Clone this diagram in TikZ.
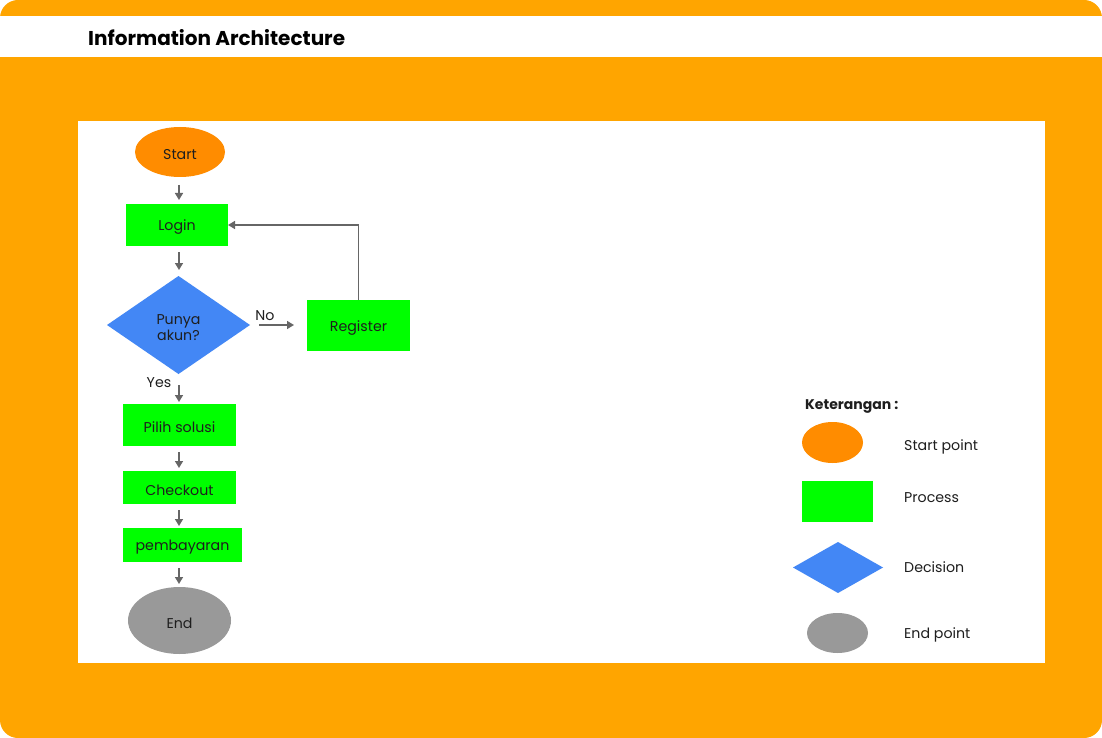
\documentclass[tikz,border=0pt]{standalone}
\usepackage{fontspec}
\setmainfont{Poppins}
\usetikzlibrary{shapes.geometric,arrows.meta}
\definecolor{frameorange}{HTML}{FFA500}
\definecolor{startorange}{HTML}{FF8C00}
\definecolor{procgreen}{HTML}{00FF00}
\definecolor{decblue}{HTML}{4387F5}
\definecolor{endgray}{HTML}{999999}
\definecolor{arrowgray}{HTML}{666666}
\definecolor{txt}{HTML}{1E1E1E}
\tikzset{
  base/.style={inner sep=0pt, outer sep=0pt, text=txt, font=\fontsize{14.2}{16}\selectfont, align=center},
  startnode/.style={base, ellipse, fill=startorange},
  procnode/.style={base, rectangle, fill=procgreen},
  decnode/.style={base, diamond, fill=decblue},
  endnode/.style={base, ellipse, fill=endgray},
  lbl/.style={inner sep=0pt, text=txt, font=\fontsize{14.2}{17}\selectfont},
  flow/.style={draw=arrowgray, line width=1.5pt, -{Triangle[length=7pt,width=8pt]}},
}
\newcommand{\dn}[1]{\raisebox{-2.5pt}[\height][\depth]{#1}}
\begin{document}
\begin{tikzpicture}[x=1pt,y=-1pt]
\useasboundingbox (0,0) rectangle (1102,738);
% frame
\fill[frameorange, rounded corners=18pt] (0,0) rectangle (1102,738);
\fill[white] (0,16) rectangle (1102,57);
\node[anchor=west, inner sep=0pt, font=\fontsize{20}{24}\selectfont\bfseries] (title) at (88,37.5) {Information Architecture};
\fill[white] (78,121) rectangle (1045,663);
% flowchart
\node[startnode, minimum width=90pt, minimum height=50pt] (start) at (180,152) {\dn{Start}};
\node[procnode, minimum width=102pt, minimum height=42pt] (login) at (177,225) {\dn{Login}};
\node[decnode, minimum width=143pt, minimum height=98pt] (dec) at (178.5,325) {\dn{\shortstack{Punya\\[-1pt]akun?}}};
\node[procnode, minimum width=103pt, minimum height=51pt] (reg) at (358.5,325.5) {\dn{Register}};
\node[procnode, minimum width=113pt, minimum height=42pt] (pilih) at (179.5,425) {\dn{Pilih solusi}};
\node[procnode, minimum width=113pt, minimum height=33pt] (check) at (179.5,487.5) {\dn{Checkout}};
\node[procnode, minimum width=119pt, minimum height=34pt] (pemb) at (182.5,545) {\dn{pembayaran}};
\node[endnode, minimum width=103pt, minimum height=67pt] (end) at (179.5,620.5) {\dn{End}};
\node[lbl] (nolbl) at (265,316) {No};
\node[lbl] (yeslbl) at (159,383) {Yes};
% connectors
\draw[flow, shorten <=8pt, shorten >=4pt] (start.south -| 179,0) -- (login.north -| 179,0);
\draw[flow, shorten <=6pt, shorten >=6pt] (login.south -| 179,0) -- (dec.north -| 179,0);
\draw[flow, shorten <=9pt, shorten >=13pt] (dec.east) -- (reg.west |- dec.east);
\draw[flow] (reg.north) |- (login.east);
\draw[flow, shorten <=11pt, shorten >=2pt] (dec.south -| 179,0) -- (pilih.north -| 179,0);
\draw[flow, shorten <=6pt, shorten >=3pt] (pilih.south -| 179,0) -- (check.north -| 179,0);
\draw[flow, shorten <=6pt, shorten >=2pt] (check.south -| 179,0) -- (pemb.north -| 179,0);
\draw[flow, shorten <=6pt, shorten >=3pt] (pemb.south -| 179,0) -- (end.north -| 179,0);
% legend
\node[anchor=west, inner sep=0pt, text=txt, font=\fontsize{14}{17}\selectfont\bfseries] (ket) at (805,407) {Keterangan :};
\node[startnode, minimum width=61pt, minimum height=41pt] (lgstart) at (832.5,442.5) {};
\node[procnode, minimum width=71pt, minimum height=41pt] (lgproc) at (837.5,501.5) {};
\node[decnode, minimum width=90pt, minimum height=51pt] (lgdec) at (838,567.5) {};
\node[endnode, minimum width=61pt, minimum height=40pt] (lgend) at (837.5,633) {};
\node[lbl, anchor=west] (t1) at (904,447) {Start point};
\node[lbl, anchor=west] (t2) at (904,498) {Process};
\node[lbl, anchor=west] (t3) at (904,567) {Decision};
\node[lbl, anchor=west] (t4) at (904,635) {End point};
\end{tikzpicture}
\end{document}
